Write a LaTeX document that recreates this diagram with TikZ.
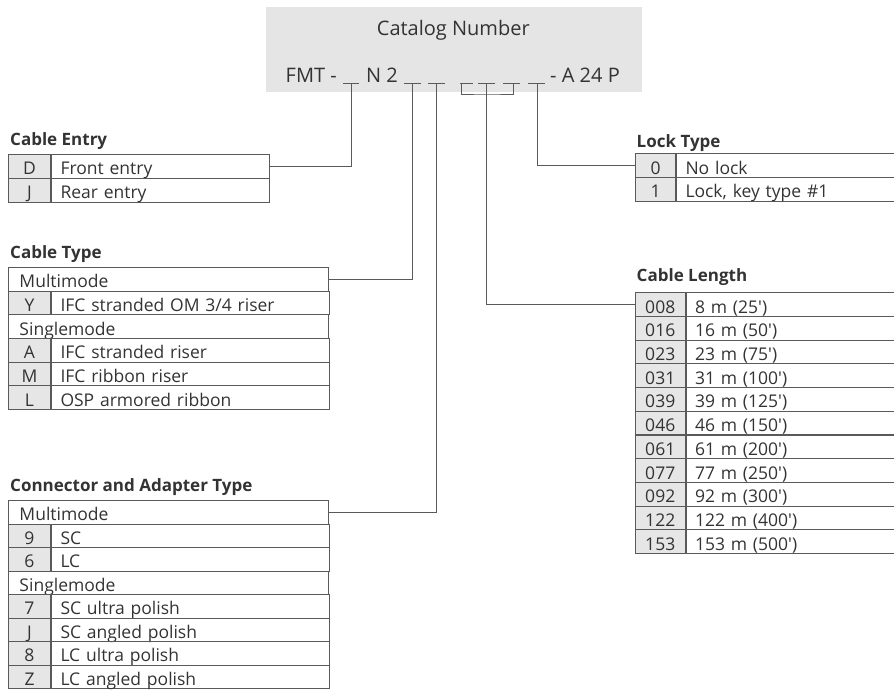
\documentclass[tikz,border=0pt]{standalone}
\usepackage{fontspec}
\setmainfont{Open Sans}
\usepackage{tikz}
\usetikzlibrary{positioning}
\definecolor{ink}{RGB}{51,51,51}
\definecolor{linegray}{RGB}{90,90,90}
\definecolor{cellgray}{RGB}{230,230,230}
\definecolor{boxgray}{RGB}{229,229,229}

\begin{document}
\begin{tikzpicture}[
  x=1pt, y=-1pt,
  wire/.style={draw=linegray, line width=1pt},
  catbox/.style={rectangle,fill=boxgray,minimum width=376pt,minimum height=85pt,inner sep=0pt},
  cattext/.style={text=ink,font=\fontsize{20}{24}\selectfont,inner sep=0pt},
  heading/.style={text=ink,font=\bfseries\fontsize{17}{20}\selectfont,inner sep=0pt,anchor=base west},
  cell/.style={rectangle,draw=linegray,line width=1pt,text=ink,font=\fontsize{17.5}{20}\selectfont,minimum height=23.6pt,text height=17pt,text depth=0pt,inner ysep=0pt},
  codecell/.style={cell,fill=cellgray,minimum width=#1,inner xsep=0pt,anchor=north west},
  desccell/.style={cell,text width=#1,inner xsep=9pt,align=left},
  groupcell/.style={cell,text width=297.5pt,inner xsep=11pt,align=left,anchor=north west}
]
\useasboundingbox (0,0) rectangle (894,690);

\node[catbox] (catalog) at (454,49.5) {};
\node[cattext,anchor=base] (cattitle) at (453.3,36) {Catalog Number};
\node[cattext,anchor=base east] (prefix) at (337,83) {FMT -};
\node[cattext,anchor=base] (infix) at (382,83) {N 2};
\node[cattext,anchor=base west] (suffix) at (550,83) {- A 24 P};
\foreach \x/\w in {343.3/16,404/16.7,428.3/16.7,460/13.3,478.3/16.7,503.3/16.7,528.3/16.7}
  \draw[wire] (\x,84) -- ++(\w,0);

\coordinate (b1) at (351.7,84);
\coordinate (b2) at (412.3,84);
\coordinate (b3) at (436.7,84);
\coordinate (b4) at (461.7,84);
\coordinate (b5) at (486.7,84);
\coordinate (b6) at (513.3,84);
\coordinate (b7) at (537.3,84);
\coordinate (brk) at (486.7,95);

\node[heading] (entryhead) at (10,146) {Cable Entry};
\node[codecell=42pt] (ceD) at (8,154) {D};
\node[desccell=200pt,right=0pt of ceD] (ceDtext) {Front entry};
\node[codecell=42pt] (ceJ) at (8,178) {J};
\node[desccell=200pt,right=0pt of ceJ] (ceJtext) {Rear entry};

\node[heading] (typehead) at (10,258.3) {Cable Type};
\node[groupcell] (ctMulti) at (8,267) {Multimode};
\node[codecell=42pt] (ctY) at (8,290.6) {Y};
\node[desccell=259.5pt,right=0pt of ctY] (ctYtext) {IFC stranded OM 3/4 riser};
\node[groupcell] (ctSingle) at (8,314.3) {Singlemode};
\node[codecell=42pt] (ctA) at (8,337.9) {A};
\node[desccell=259.5pt,right=0pt of ctA] (ctAtext) {IFC stranded riser};
\node[codecell=42pt] (ctM) at (8,361.6) {M};
\node[desccell=259.5pt,right=0pt of ctM] (ctMtext) {IFC ribbon riser};
\node[codecell=42pt] (ctL) at (8,385.2) {L};
\node[desccell=259.5pt,right=0pt of ctL] (ctLtext) {OSP armored ribbon};

\node[heading] (connhead) at (10,491.7) {Connector and Adapter Type};
\node[groupcell] (caMulti) at (8,500) {Multimode};
\node[codecell=42pt] (ca9) at (8,523.5) {9};
\node[desccell=259.5pt,right=0pt of ca9] (ca9text) {SC};
\node[codecell=42pt] (ca6) at (8,547) {6};
\node[desccell=259.5pt,right=0pt of ca6] (ca6text) {LC};
\node[groupcell] (caSingle) at (8,570.5) {Singlemode};
\node[codecell=42pt] (ca7) at (8,594) {7};
\node[desccell=259.5pt,right=0pt of ca7] (ca7text) {SC ultra polish};
\node[codecell=42pt] (caJ) at (8,617.5) {J};
\node[desccell=259.5pt,right=0pt of caJ] (caJtext) {SC angled polish};
\node[codecell=42pt] (ca8) at (8,641) {8};
\node[desccell=259.5pt,right=0pt of ca8] (ca8text) {LC ultra polish};
\node[codecell=42pt] (caZ) at (8,664.5) {Z};
\node[desccell=259.5pt,right=0pt of caZ] (caZtext) {LC angled polish};

\node[heading] (lockhead) at (636.5,147.3) {Lock Type};
\node[codecell=40pt] (lt0) at (635,153.3) {0};
\node[desccell=200pt,right=0pt of lt0] (lt0text) {No lock};
\node[codecell=40pt] (lt1) at (635,176.9) {1};
\node[desccell=200pt,right=0pt of lt1] (lt1text) {Lock, key type \#1};

\node[heading] (lenhead) at (636.5,281.7) {Cable Length};
\node[codecell=49.5pt] (cl008) at (635,292.3) {008};
\node[desccell=192.5pt,right=0pt of cl008] (cl008text) {8 m (25\textquotesingle)};
\node[codecell=49.5pt] (cl016) at (635,316) {016};
\node[desccell=192.5pt,right=0pt of cl016] (cl016text) {16 m (50\textquotesingle)};
\node[codecell=49.5pt] (cl023) at (635,339.7) {023};
\node[desccell=192.5pt,right=0pt of cl023] (cl023text) {23 m (75\textquotesingle)};
\node[codecell=49.5pt] (cl031) at (635,363.4) {031};
\node[desccell=192.5pt,right=0pt of cl031] (cl031text) {31 m (100\textquotesingle)};
\node[codecell=49.5pt] (cl039) at (635,387.1) {039};
\node[desccell=192.5pt,right=0pt of cl039] (cl039text) {39 m (125\textquotesingle)};
\node[codecell=49.5pt] (cl046) at (635,410.8) {046};
\node[desccell=192.5pt,right=0pt of cl046] (cl046text) {46 m (150\textquotesingle)};
\node[codecell=49.5pt] (cl061) at (635,434.5) {061};
\node[desccell=192.5pt,right=0pt of cl061] (cl061text) {61 m (200\textquotesingle)};
\node[codecell=49.5pt] (cl077) at (635,458.2) {077};
\node[desccell=192.5pt,right=0pt of cl077] (cl077text) {77 m (250\textquotesingle)};
\node[codecell=49.5pt] (cl092) at (635,481.9) {092};
\node[desccell=192.5pt,right=0pt of cl092] (cl092text) {92 m (300\textquotesingle)};
\node[codecell=49.5pt] (cl122) at (635,505.6) {122};
\node[desccell=192.5pt,right=0pt of cl122] (cl122text) {122 m (400\textquotesingle)};
\node[codecell=49.5pt] (cl153) at (635,529.3) {153};
\node[desccell=192.5pt,right=0pt of cl153] (cl153text) {153 m (500\textquotesingle)};

\draw[wire] (b1) |- (ceDtext.east);
\draw[wire] (b2) |- (ctMulti.east);
\draw[wire] (b3) |- (caMulti.east);
\draw[wire] (b4) |- (brk) -| (b6);
\draw[wire] (b5) |- (cl008.west);
\draw[wire] (b7) |- (lt0.west);

\end{tikzpicture}
\end{document}
